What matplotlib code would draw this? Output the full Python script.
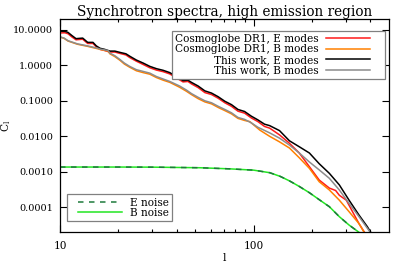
import matplotlib
matplotlib.use("Agg")
import matplotlib.pyplot as plt
from matplotlib.ticker import FixedLocator, FixedFormatter, NullFormatter
from matplotlib.patches import Rectangle
from matplotlib.transforms import IdentityTransform

# ---------------- data ----------------
l_tw_E = [10, 10.6, 11.0, 11.5, 12.1, 13.1, 13.9, 14.8, 15.4, 16.1, 17.0, 18.1, 19.2, 20.4,
          21.9, 22.9, 24.8, 26.9, 29.1, 31.5, 34.1, 36.9, 39.9, 43.2, 45.8, 47.7, 51.7, 56,
          60.6, 65.6, 71, 76.8, 83, 89.8, 97.2, 105.2, 113.8, 121, 136, 153, 172, 194, 218,
          246, 277, 311, 350, 386, 405]
cl_tw_E = [9.0, 9.0, 8.4, 6.9, 5.6, 5.8, 4.4, 4.4, 3.5, 3.0, 2.8, 2.5, 2.5, 2.3,
           2.1, 1.8, 1.4, 1.15, 0.93, 0.8, 0.72, 0.62, 0.48, 0.37, 0.38, 0.33, 0.26, 0.19,
           0.165, 0.13, 0.097, 0.078, 0.057, 0.05, 0.037, 0.029, 0.022, 0.020, 0.0145, 0.0075,
           0.0051, 0.0034, 0.0017, 0.00091, 0.00043, 0.00016, 6.1e-5, 2.9e-5, 1.9e-5]

l_cg_E = [10, 10.6, 11.0, 11.5, 12.1, 13.1, 13.9, 14.8, 15.4, 16.1, 17.0, 18.1, 19.2, 20.4,
          21.9, 22.9, 24.8, 26.9, 29.1, 31.5, 34.1, 36.9, 39.9, 43.2, 45.8, 47.7, 51.7, 56,
          60.6, 65.6, 71, 76.8, 83, 89.8, 97.2, 105.2, 113.8, 121, 136, 153, 172, 194, 218,
          246, 265, 277, 301, 324, 350, 378]
cl_cg_E = [8.1, 8.2, 7.7, 6.3, 5.2, 5.4, 4.1, 4.1, 3.3, 2.8, 2.6, 2.35, 2.35, 2.15,
           1.95, 1.65, 1.3, 1.05, 0.85, 0.73, 0.66, 0.57, 0.44, 0.34, 0.35, 0.30, 0.235, 0.17,
           0.15, 0.118, 0.088, 0.07, 0.051, 0.045, 0.033, 0.026, 0.019, 0.017, 0.011, 0.0064,
           0.0034, 0.0014, 0.00059, 0.00035, 0.00030, 0.00022, 0.00016, 7.6e-5, 3.5e-5, 1.8e-5]

l_tw_B = [10, 10.5, 11, 12.3, 13.9, 15.7, 16.1, 17.7, 18.1, 19.2, 20.4, 21.5, 22.9, 24.8,
          26.9, 29.1, 31.5, 34.1, 36.9, 41.5, 45, 47.7, 51.7, 56, 60.6, 65.6, 71, 76.8, 83,
          89.8, 97.2, 105.2, 121, 136, 153, 172, 194, 218, 246, 277, 311, 350, 395]
cl_tw_B = [6.3, 5.8, 4.9, 4.0, 3.5, 3.0, 2.86, 2.6, 2.2, 1.85, 1.45, 1.15, 0.93, 0.75,
           0.67, 0.60, 0.48, 0.41, 0.35, 0.26, 0.20, 0.16, 0.125, 0.10, 0.088, 0.07, 0.057,
           0.046, 0.034, 0.030, 0.024, 0.018, 0.0125, 0.0089, 0.0057, 0.0034, 0.0019,
           0.00114, 0.00066, 0.00031, 0.00013, 5.5e-5, 2.2e-5]

l_cg_B = [10, 10.5, 11, 12.3, 13.9, 15.7, 16.1, 17.7, 18.1, 19.2, 20.4, 21.5, 22.9, 24.8,
          26.9, 29.1, 31.5, 34.1, 36.9, 41.5, 45, 47.7, 51.7, 56, 60.6, 65.6, 71, 76.8, 83,
          89.8, 95.5, 107.6, 121, 136, 153, 172, 194, 218, 246, 277, 311, 350, 372]
cl_cg_B = [6.2, 5.7, 4.8, 3.9, 3.4, 2.9, 2.8, 2.5, 2.1, 1.75, 1.38, 1.08, 0.88, 0.70,
           0.62, 0.56, 0.45, 0.38, 0.33, 0.24, 0.185, 0.15, 0.115, 0.093, 0.082, 0.065,
           0.053, 0.043, 0.032, 0.028, 0.026, 0.015, 0.010, 0.0070, 0.0047, 0.0025, 0.00126,
           0.00053, 0.00031, 0.00016, 7.6e-5, 3.5e-5, 2.0e-5]

l_noise = [10, 20, 30, 52.6, 75, 100, 121, 137, 153, 172, 194, 220, 246, 277, 311, 350, 365]
n_E = [0.00137, 0.00137, 0.00136, 0.00131, 0.00122, 0.00112, 0.00095, 0.00075, 0.00056,
       0.00039, 0.00026, 0.00016, 0.000105, 5.5e-5, 3.2e-5, 2.0e-5, 1.6e-5]
n_B = [0.00137, 0.00137, 0.00136, 0.00131, 0.00122, 0.00112, 0.00095, 0.00075, 0.00056,
       0.00039, 0.00026, 0.00016, 0.000105, 5.5e-5, 3.2e-5, 2.0e-5, 1.6e-5]

y_ticks = [1e-4, 1e-3, 1e-2, 1e-1, 1.0, 10.0]
y_ticklabels = ["0.0001", "0.0010", "0.0100", "0.1000", "1.0000", "10.0000"]
x_ticks = [10, 100]
x_ticklabels = ["10", "100"]

# ---------------- figure ----------------
plt.rcParams['font.family'] = ['DejaVu Serif']
plt.rcParams['mathtext.fontset'] = 'dejavuserif'

fig = plt.figure(figsize=(4.07, 2.71), dpi=100)
ax = fig.add_axes([0.1474, 0.1428, 0.8084, 0.7871])
ax.set_xscale('log')
ax.set_yscale('log')

lw = 1.1
h_cgE, = ax.plot(l_cg_E, cl_cg_E, color='#ff1a1a', lw=lw)
h_cgB, = ax.plot(l_cg_B, cl_cg_B, color='#ff8000', lw=lw)
h_twE, = ax.plot(l_tw_E, cl_tw_E, color='black', lw=lw)
h_twB, = ax.plot(l_tw_B, cl_tw_B, color='#8c8c8c', lw=lw)
h_nB, = ax.plot(l_noise, n_B, color='#22e622', lw=lw)
h_nE, = ax.plot(l_noise, n_E, color='#1e7a3c', lw=lw, dashes=(3.6, 3.6))

ax.set_xlim(10, 500)
ax.set_ylim(2e-5, 20)

ax.yaxis.set_major_locator(FixedLocator(y_ticks))
ax.yaxis.set_major_formatter(FixedFormatter(y_ticklabels))
ax.yaxis.set_minor_locator(FixedLocator([]))
ax.xaxis.set_major_locator(FixedLocator(x_ticks))
ax.xaxis.set_major_formatter(FixedFormatter(x_ticklabels))
ax.xaxis.set_minor_locator(FixedLocator([20, 30, 40, 50, 60, 70, 80, 90, 200, 300, 400]))
ax.xaxis.set_minor_formatter(NullFormatter())

ax.tick_params(which='both', direction='in', top=True, right=True, colors='black', width=0.8)
ax.tick_params(which='major', length=5)
ax.tick_params(which='minor', length=2.5)
ax.tick_params(axis='x', labelsize=7.6, pad=6)
ax.tick_params(axis='y', labelsize=7.0, pad=5)
for s in ax.spines.values():
    s.set_linewidth(0.9)

ax.set_title("Synchrotron spectra, high emission region", fontsize=9.8, pad=2.5)
ax.set_xlabel("l", fontsize=7.6, labelpad=2)
ax.set_ylabel(r"C$_{\rm l}$", fontsize=7.6)
ax.yaxis.set_label_coords(-0.143, 0.5)

common = dict(fontsize=7.6, handlelength=4.2, handletextpad=0.7, labelspacing=0.05,
              borderpad=0.3, borderaxespad=0, frameon=False)
leg1 = ax.legend([h_cgE, h_cgB, h_twE, h_twB],
                 ["Cosmoglobe DR1, E modes", "Cosmoglobe DR1, B modes",
                  "This work, E modes", "This work, B modes"],
                 loc='upper right', bbox_to_anchor=(0.952, 0.945), markerfirst=False, **common)
ax.add_artist(leg1)
leg2 = ax.legend([h_nE, h_nB], ["E noise", "B noise"],
                 loc='lower left', bbox_to_anchor=(0.045, 0.052), **common)

# frames around the legends (wider on the line side, as in the reference)
fig.canvas.draw()
for leg, extra_left, extra_right in [(leg1, 0, 12), (leg2, 8, 0)]:
    bb = leg.get_window_extent()
    rect = Rectangle((bb.x0 - extra_left, bb.y0), bb.width + extra_left + extra_right,
                     bb.height, transform=IdentityTransform(), facecolor='white',
                     edgecolor='#808080', linewidth=0.9, zorder=4.5)
    ax.add_artist(rect)

fig.savefig("out.png", dpi=100)
